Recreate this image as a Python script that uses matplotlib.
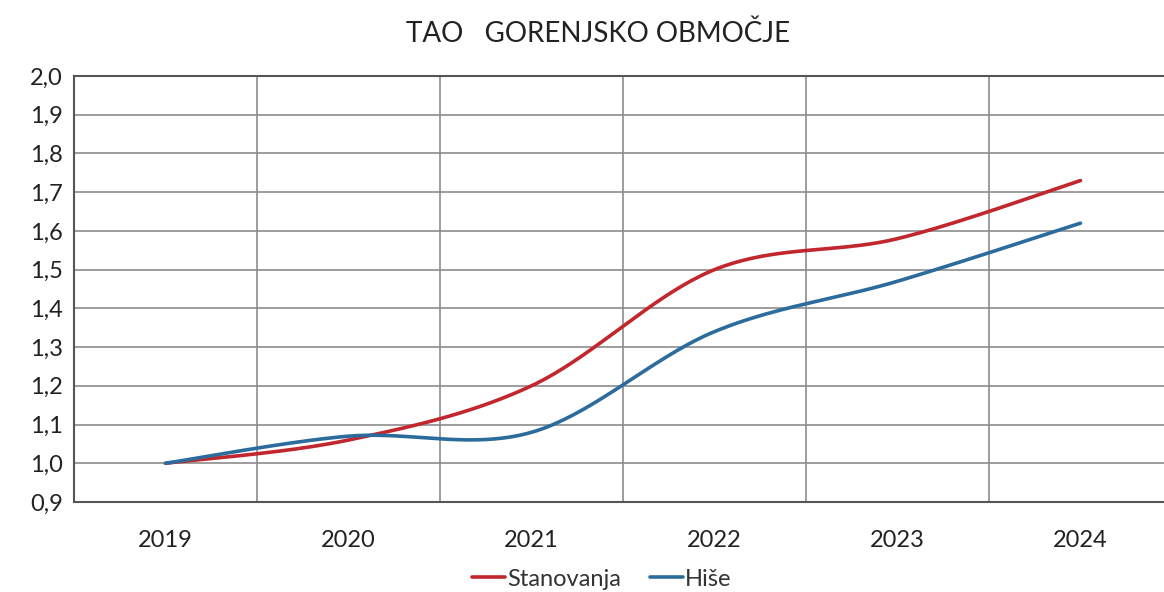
import matplotlib.pyplot as plt
import numpy as np

years = ["2019", "2020", "2021", "2022", "2023", "2024"]
stanovanja = [1.00, 1.06, 1.20, 1.50, 1.58, 1.73]
hise = [1.00, 1.07, 1.08, 1.34, 1.47, 1.62]


def smooth(y, n=40):
    # Catmull-Rom style smoothing like Excel's smoothed line
    y = np.asarray(y, dtype=float)
    x = np.arange(len(y), dtype=float)
    xs, ys = [], []
    for i in range(len(y) - 1):
        p0 = (x[i - 1], y[i - 1]) if i > 0 else (x[i], y[i])
        p1 = (x[i], y[i])
        p2 = (x[i + 1], y[i + 1])
        p3 = (x[i + 2], y[i + 2]) if i + 2 < len(y) else (x[i + 1], y[i + 1])
        c1 = (p1[0] + (p2[0] - p0[0]) / 6, p1[1] + (p2[1] - p0[1]) / 6)
        c2 = (p2[0] - (p3[0] - p1[0]) / 6, p2[1] - (p3[1] - p1[1]) / 6)
        t = np.linspace(0, 1, n)
        for a, b in ((0, xs), (1, ys)):
            b.extend((1 - t) ** 3 * p1[a] + 3 * (1 - t) ** 2 * t * c1[a]
                     + 3 * (1 - t) * t ** 2 * c2[a] + t ** 3 * p2[a])
    return np.array(xs), np.array(ys)


plt.rcParams['font.family'] = ['Lato', 'DejaVu Sans']

fig = plt.figure(figsize=(11.64, 5.92), dpi=100)
ax = fig.add_axes([74 / 1164, 1 - 502 / 592, 1098 / 1164, 426 / 592])

sx, sy = smooth(stanovanja)
hx, hy = smooth(hise)
ax.plot(sx, sy, color="#C1272D", lw=2.6, label="Stanovanja", solid_capstyle="round")
ax.plot(hx, hy, color="#2B6C9C", lw=2.6, label="Hiše", solid_capstyle="round")

ax.set_xlim(-0.5, 5.5)
ax.set_ylim(0.9, 2.0)
ax.set_xticks(range(len(years)))
ax.set_xticklabels(years)
ax.set_xticks(np.arange(0.5, 5, 1), minor=True)
yt = np.round(np.arange(0.9, 2.001, 0.1), 1)
ax.set_yticks(yt)
ax.set_yticklabels([f"{v:.1f}".replace(".", ",") for v in yt])
ax.tick_params(axis="both", which="both", length=0, labelsize=17, colors="#222222")
ax.tick_params(axis="x", pad=20)
ax.tick_params(axis="y", pad=8)
ax.grid(axis="y", color="#8c8c8c", lw=1.2)
ax.grid(axis="x", which="minor", color="#8c8c8c", lw=1.2)
for s in ax.spines.values():
    s.set_color("#555555")
    s.set_linewidth(1.5)

fig.suptitle("TAO   GORENJSKO OBMOČJE", x=598 / 1164, y=1 - 34 / 592, va="center",
             fontsize=20, color="#222222")
fig.legend(loc="center", bbox_to_anchor=(602 / 1164, 1 - 579 / 592), ncol=2, frameon=False,
           fontsize=17, handlelength=1.4, handletextpad=0.1, columnspacing=1.2,
           labelcolor="#333333")

fig.savefig("out.png", dpi=100)
